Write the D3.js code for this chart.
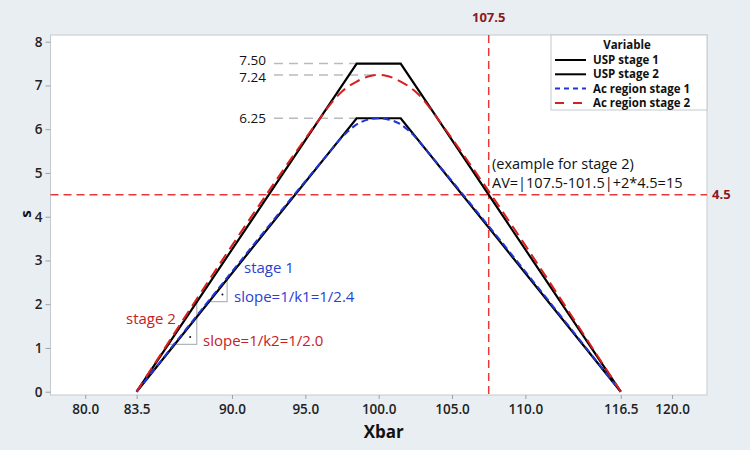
<!DOCTYPE html>
<html><head><meta charset="utf-8">
<script src="https://cdn.jsdelivr.net/npm/d3@7"></script>
<style>
html,body{margin:0;padding:0;background:#e9eef2;}
text{font-family:"Open Sans","Noto Sans",sans-serif;}
</style></head>
<body><svg id="c" width="750" height="450"></svg>
<script>
// ---- data ----
const xTicks = [80.0, 83.5, 90.0, 95.0, 100.0, 105.0, 110.0, 116.5, 120.0];
const yTicks = [0, 1, 2, 3, 4, 5, 6, 7, 8];
const usp1X = [83.5, 98.5, 101.5, 116.5];
const usp1S = [0, 6.25, 6.25, 0];
const usp2X = [83.5, 98.5, 101.5, 116.5];
const usp2S = [0, 7.5, 7.5, 0];
const ac1X = [83.5, 97.0, 97.5, 98.0, 98.5, 99.0, 99.5, 100.0, 100.5, 101.0, 101.5, 102.0, 102.5, 103.0, 116.5];
const ac1S = [0, 5.62, 5.82, 5.98, 6.11, 6.19, 6.235, 6.25, 6.235, 6.19, 6.11, 5.98, 5.82, 5.62, 0];
const ac2X = [83.5, 96.0, 96.5, 97.0, 97.5, 98.0, 98.5, 99.0, 99.5, 100.0, 100.5, 101.0, 101.5, 102.0, 102.5, 103.0, 103.5, 104.0, 116.5];
const ac2S = [0, 6.25, 6.48, 6.69, 6.86, 6.99, 7.09, 7.17, 7.22, 7.24, 7.22, 7.17, 7.09, 6.99, 6.86, 6.69, 6.48, 6.25, 0];
const refLevels = [7.50, 7.24, 6.25];
const refEndX = [98.5, 100.0, 98.5];
const refLabelShift = [-3.5, 2.5, 0];
const vLine = 107.5;
const hLine = 4.5;
const legendNames = ["USP stage 1", "USP stage 2", "Ac region stage 1", "Ac region stage 2"];
const tri1 = [[88.44, 2.057], [89.67, 2.057], [89.67, 2.57]];
const tri2 = [[85.67, 1.083], [87.6, 1.083], [87.6, 2.05]];

// ---- layout ----
const L = 50.5, R = 707, T = 35, B = 395;
const svg = d3.select("#c");
const x = d3.scaleLinear().domain([77.63, 122.38]).range([L, R]);
const y = d3.scaleLinear().domain([-0.075, 8.153]).range([B, T]);

svg.append("rect").attr("x", L).attr("y", T).attr("width", R - L).attr("height", B - T)
  .attr("fill", "#fff").attr("stroke", "#c3cacf").attr("stroke-width", 1);

// axes
const xa = svg.append("g").attr("transform", `translate(0,${B})`)
  .call(d3.axisBottom(x).tickValues(xTicks).tickFormat(d3.format(".1f")).tickSize(4).tickPadding(5));
const ya = svg.append("g").attr("transform", `translate(${L},0)`)
  .call(d3.axisLeft(y).tickValues(yTicks).tickFormat(d3.format("d")).tickSize(5).tickPadding(3));
[xa, ya].forEach(a => {
  a.select(".domain").remove();
  a.selectAll(".tick line").attr("stroke", "#9aa3a8");
  a.selectAll(".tick text").attr("font-size", 13.5).attr("font-weight", 600).attr("fill", "#222")
    .attr("font-family", "'Open Sans',sans-serif");
});
svg.append("text").attr("x", (L + R) / 2 + 5).attr("y", 438).attr("text-anchor", "middle")
  .attr("font-size", 17).attr("font-weight", 700).attr("fill", "#111").text("Xbar");
svg.append("text").attr("transform", `translate(26,214) rotate(-90)`).attr("text-anchor", "middle")
  .attr("dy", "0.35em").attr("font-size", 15).attr("font-weight", 700).attr("fill", "#111").text("s");

// grey reference lines + labels
refLevels.forEach((v, i) => {
  svg.append("line").attr("x1", 274).attr("x2", x(refEndX[i])).attr("y1", y(v)).attr("y2", y(v))
    .attr("stroke", "#b4bcc0").attr("stroke-width", 1.5).attr("stroke-dasharray", "9,6");
  svg.append("text").attr("x", 266).attr("y", y(v) + refLabelShift[i]).attr("dy", "0.35em").attr("text-anchor", "end")
    .attr("font-size", 13.5).attr("fill", "#111").text(v.toFixed(2));
});

// red reference lines
svg.append("line").attr("x1", x(vLine)).attr("x2", x(vLine)).attr("y1", T).attr("y2", B)
  .attr("stroke", "#e8393a").attr("stroke-width", 1.5).attr("stroke-dasharray", "8,5");
svg.append("line").attr("x1", L).attr("x2", R).attr("y1", y(hLine)).attr("y2", y(hLine))
  .attr("stroke", "#e8393a").attr("stroke-width", 1.5).attr("stroke-dasharray", "8,5");
svg.append("text").attr("x", x(vLine)).attr("y", 22).attr("text-anchor", "middle")
  .attr("font-size", 13).attr("font-weight", 700).attr("fill", "#8b1a1f").text("107.5");
svg.append("text").attr("x", 712).attr("y", y(hLine)).attr("dy", "0.35em")
  .attr("font-size", 13).attr("font-weight", 700).attr("fill", "#8b1a1f").text("4.5");

// slope triangles
[tri1, tri2].forEach(t => {
  svg.append("path").attr("d", d3.line().x(d => x(d[0])).y(d => y(d[1]))(t))
    .attr("fill", "none").attr("stroke", "#b0b6ba").attr("stroke-width", 1.2);
});
svg.append("circle").attr("cx", x(89.35)).attr("cy", y(2.22)).attr("r", 1).attr("fill", "#111");
svg.append("circle").attr("cx", x(87.15)).attr("cy", y(1.25)).attr("r", 1).attr("fill", "#111");

// series
const line = d3.line().x(d => x(d[0])).y(d => y(d[1]));
const curve = d3.line().x(d => x(d[0])).y(d => y(d[1])).curve(d3.curveMonotoneX);
const zip = (a, b) => a.map((v, i) => [v, b[i]]);
svg.append("path").attr("d", line(zip(usp1X, usp1S))).attr("fill", "none").attr("stroke", "#000").attr("stroke-width", 2.2);
svg.append("path").attr("d", line(zip(usp2X, usp2S))).attr("fill", "none").attr("stroke", "#000").attr("stroke-width", 2.2);
svg.append("path").attr("d", curve(zip(ac1X, ac1S))).attr("fill", "none").attr("stroke", "#1f35d6").attr("stroke-width", 2).attr("stroke-dasharray", "7,4");
svg.append("path").attr("d", curve(zip(ac2X, ac2S))).attr("fill", "none").attr("stroke", "#d81e1e").attr("stroke-width", 2).attr("stroke-dasharray", "11,6");

// annotations
svg.append("text").attr("x", 492).attr("y", 164).attr("dy", "0.35em").attr("font-size", 14.5).attr("fill", "#111").text("(example for stage 2)");
svg.append("text").attr("x", 492).attr("y", 183).attr("dy", "0.35em").attr("font-size", 14.5).attr("fill", "#111").text("AV=|107.5-101.5|+2*4.5=15");
svg.append("text").attr("x", 244).attr("y", 268).attr("dy", "0.35em").attr("font-size", 15).attr("fill", "#2b3fd0").text("stage 1");
svg.append("text").attr("x", 234).attr("y", 297).attr("dy", "0.35em").attr("font-size", 15).attr("fill", "#2b3fd0").text("slope=1/k1=1/2.4");
svg.append("text").attr("x", 126).attr("y", 319).attr("dy", "0.35em").attr("font-size", 15).attr("fill", "#c8201e").text("stage 2");
svg.append("text").attr("x", 203).attr("y", 341).attr("dy", "0.35em").attr("font-size", 15).attr("fill", "#c8201e").text("slope=1/k2=1/2.0");

// legend
const lg = svg.append("g");
lg.append("rect").attr("x", 551).attr("y", T).attr("width", R - 551).attr("height", 75)
  .attr("fill", "#fff").attr("stroke", "#c3cacf");
lg.append("text").attr("x", 627).attr("y", 45).attr("dy", "0.35em").attr("text-anchor", "middle")
  .attr("font-size", 11.5).attr("font-weight", 700).attr("fill", "#111").text("Variable");
const lgStyle = [["#000", null], ["#000", null], ["#1f35d6", "5,4"], ["#d81e1e", "9,9"]];
legendNames.forEach((n, i) => {
  const yy = 60 + i * 14.3;
  const l = lg.append("line").attr("x1", 555).attr("x2", 586).attr("y1", yy).attr("y2", yy)
    .attr("stroke", lgStyle[i][0]).attr("stroke-width", 2);
  if (lgStyle[i][1]) l.attr("stroke-dasharray", lgStyle[i][1]);
  lg.append("text").attr("x", 593).attr("y", yy).attr("dy", "0.35em").attr("font-size", 11.5)
    .attr("font-weight", 700).attr("fill", "#111").text(n);
});
</script></body></html>
